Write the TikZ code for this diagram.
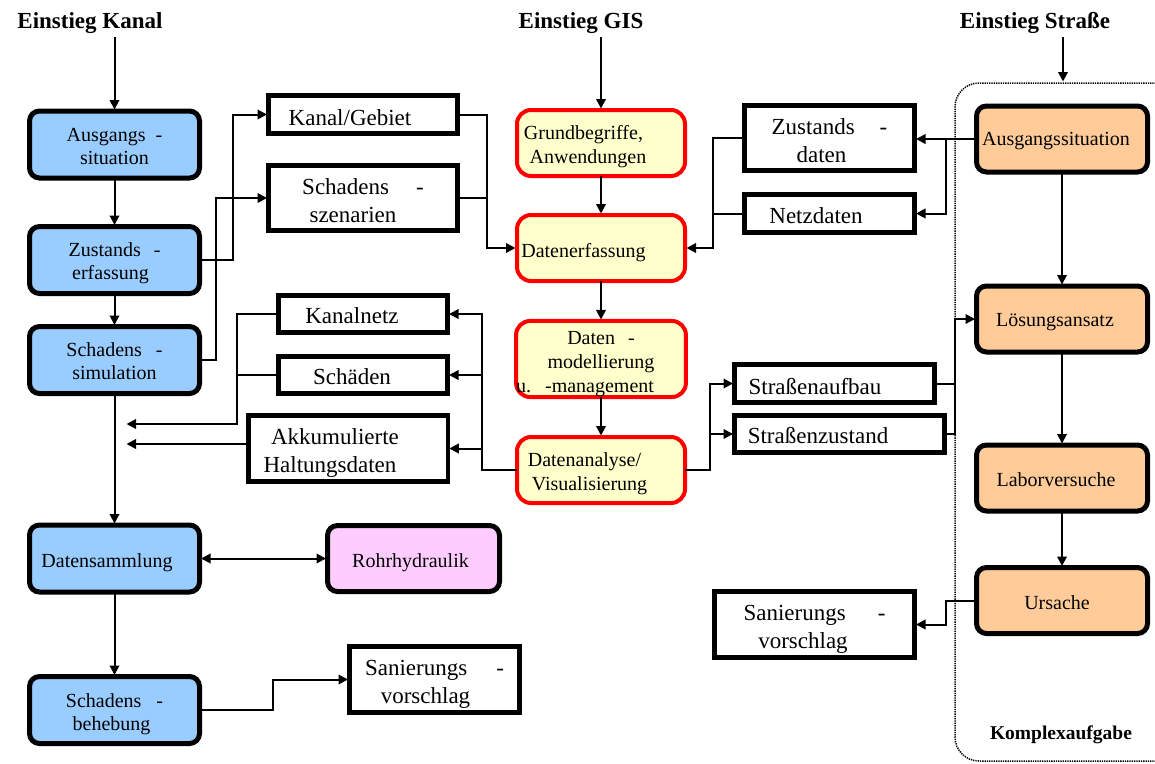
\documentclass[tikz,border=0pt]{standalone}
\usepackage{fontspec}
\setmainfont{Liberation Serif}
\usetikzlibrary{arrows.meta}

\definecolor{kanalblue}{HTML}{99CCFF}
\definecolor{gisyellow}{HTML}{FFFFCC}
\definecolor{gisred}{HTML}{FF0000}
\definecolor{strorange}{HTML}{FFCC99}
\definecolor{hydpink}{HTML}{FFCCFF}

% invisible strut that pushes a node's text block slightly down
\newcommand{\tstrut}[1]{\rule{0pt}{#1pt}}

\begin{document}
\begin{tikzpicture}[x=1pt,y=-1pt,
  every node/.style={inner sep=0pt, outer sep=0pt},
  headtext/.style={font=\fontsize{23}{27}\selectfont\bfseries, anchor=base},
  basebox/.style={draw=black, line width=5pt, rounded corners=10pt,
    font=\fontsize{20}{23}\selectfont, align=center},
  bluebox/.style={basebox, fill=kanalblue, minimum width=170pt, minimum height=67pt},
  orangebox/.style={basebox, fill=strorange, minimum width=171pt, minimum height=66pt},
  pinkbox/.style={basebox, fill=hydpink, minimum width=172pt, minimum height=66pt},
  gisbox/.style={draw=gisred, line width=4pt, fill=gisyellow, rounded corners=14pt,
    font=\fontsize{20}{24}\selectfont, align=center,
    minimum width=168pt, minimum height=66pt},
  whitebox/.style={draw=black, line width=4.5pt, fill=white,
    font=\fontsize{23}{28}\selectfont, align=center},
  conn/.style={line width=2pt},
  arr/.style={conn, -{Triangle[length=9.5pt,width=9.5pt]}, shorten >=1.5pt},
  dblarr/.style={conn, {Triangle[length=9.5pt,width=9.5pt]}-{Triangle[length=9.5pt,width=9.5pt]},
    shorten >=1.5pt, shorten <=1.5pt},
  framebox/.style={draw=black, line width=1.5pt, dash pattern=on 1.3pt off 1pt,
    rounded corners=24pt}
]
\useasboundingbox (0,0) rectangle (1155,763);

% dotted frame of the road column (runs off the right edge)
\begin{scope}
  \clip (0,0) rectangle (1155,763);
  \node[framebox, minimum width=225pt, minimum height=678pt] (frame) at (1067.5,422) {};
\end{scope}
\node[font=\fontsize{19.5}{22}\selectfont\bfseries] (komplex) at (1061,735) {Komplexaufgabe};

% headings and entry points
\node[headtext] (tK) at (90,28) {Einstieg Kanal};
\node[headtext] (tG) at (581,28) {Einstieg GIS};
\node[headtext] (tS) at (1035,28) {Einstieg Straße};
\coordinate (kIn) at (114.5,37);
\coordinate (gIn) at (601,37);
\coordinate (sIn) at (1063,37);

% sewer column
\node[bluebox] (kA) at (114.5,144.5) {\tstrut{17.7}Ausgangs\hspace{10pt}-\\situation};
\node[bluebox] (kZ) at (114.5,260) {\tstrut{19.7}Zustands\hspace{13pt}-\\erfassung\hspace*{8pt}};
\node[bluebox] (kS) at (114.5,360) {\tstrut{16.7}Schadens\hspace{14pt}-\\simulation};
\node[bluebox] (kD) at (114.5,558.5) {\tstrut{21.7}Datensammlung\hspace*{15pt}};
\node[bluebox] (kB) at (114.5,710) {\tstrut{21.7}Schadens\hspace{15pt}-\\behebung\hspace*{6pt}};
\node[pinkbox] (kR) at (413.5,558.5) {\tstrut{21.7}Rohrhydraulik\hspace*{6pt}};

\node[whitebox, minimum width=189pt, minimum height=38pt] (wKG) at (363,114.5) {\tstrut{21.7}Kanal/Gebiet\hspace*{26pt}};
\node[whitebox, minimum width=189pt, minimum height=65pt] (wSS) at (363,198) {\tstrut{20.7}Schadens\hspace{27pt}-\\szenarien\hspace*{20pt}};
\node[whitebox, minimum width=169pt, minimum height=37pt] (wKN) at (363,314) {\tstrut{19.7}Kanalnetz\hspace*{22pt}};
\node[whitebox, minimum width=169pt, minimum height=37pt] (wSD) at (363,375) {\tstrut{19.7}Schäden\hspace*{22pt}};
\node[whitebox, minimum width=199.5pt, minimum height=66pt] (wAH) at (348,448.5) {\tstrut{24.7}Akkumulierte\hspace*{26pt}\\Haltungsdaten\hspace*{36pt}};
\node[whitebox, minimum width=170pt, minimum height=66pt] (wSV1) at (434.5,679.5) {\tstrut{24.7}Sanierungs\hspace{29pt}-\\vorschlag\hspace*{18pt}};

% GIS column
\node[gisbox] (gG) at (601,143) {\tstrut{20.7}Grundbegriffe,\hspace*{35pt}\\Anwendungen\hspace*{26pt}};
\node[gisbox] (gE) at (601,248) {\tstrut{23.7}Datenerfassung\hspace*{35pt}};
\node[gisbox, minimum height=76pt] (gM) at (601,359) {\tstrut{23.7}Daten\hspace{13pt}-\\modellierung\hspace*{24pt}\\u.\hspace{14pt}-management\hspace*{32pt}};
\node[gisbox] (gA) at (601,470) {\tstrut{21.7}Datenanalyse/\hspace*{33pt}\\Visualisierung\hspace*{23pt}};

% road column
\node[orangebox] (sA) at (1062,139) {\tstrut{17.7}Ausgangssituation\hspace*{12pt}};
\node[orangebox] (sL) at (1062,319) {\tstrut{19.7}Lösungsansatz\hspace*{14pt}};
\node[orangebox] (sLV) at (1062,478) {\tstrut{17.7}Laborversuche\hspace*{12pt}};
\node[orangebox] (sU) at (1062,600.5) {\tstrut{17.7}Ursache\hspace*{10pt}};

\node[whitebox, minimum width=170pt, minimum height=65pt] (wZD) at (829.5,138) {\tstrut{20.7}Zustands\hspace{25pt}-\\daten\hspace*{16pt}};
\node[whitebox, minimum width=170pt, minimum height=38pt] (wND) at (829.5,213.5) {\tstrut{19.7}Netzdaten\hspace*{27pt}};
\node[whitebox, minimum width=200pt, minimum height=38pt] (wSA) at (834.5,383.5) {\tstrut{21.7}Straßenaufbau\hspace*{39pt}};
\node[whitebox, minimum width=210pt, minimum height=37pt] (wSZ) at (839.5,434) {\tstrut{19.7}Straßenzustand\hspace*{43pt}};
\node[whitebox, minimum width=200pt, minimum height=66pt] (wSV2) at (814.5,624.5) {\tstrut{24.7}Sanierungs\hspace{32pt}-\\vorschlag\hspace*{23pt}};

% bus lines and loose ends
\coordinate (outK1) at (125,424);
\coordinate (outK2) at (125,444);
\coordinate (busK) at (237,0);
\coordinate (busL) at (482,0);
\coordinate (busG) at (713,0);
\coordinate (busS) at (710,0);
\coordinate (busR1) at (946,0);
\coordinate (busR2) at (955,0);

% sewer column flow
\draw[arr] (kIn) -- (kA.north);
\draw[arr] (kA.south) -- (kZ.north);
\draw[arr] (kZ.south) -- (kS.north);
\draw[arr] (kS.south) -- (kD.north);
\draw[arr] (kD.south) -- (kB.north);
\draw[dblarr] (kD.east) -- (kR.west);
\draw[arr] (kZ.east) -- ++(33.5,0) |- (wKG.west);
\draw[arr] (kS.east) -- ++(16.5,0) |- (wSS.west);
\draw[arr] (kB.east) -- ++(73.5,0) |- (wSV1.west);

% into the GIS column
\draw[arr] (wKG.east) -- ++(29.5,0) |- (gE.west);
\draw[conn] (wSS.east) -- ++(29.5,0);
\draw[arr] (gIn) -- (gG.north);
\draw[arr] (gG.south) -- (gE.north);
\draw[arr] (gE.south) -- (gM.north);
\draw[arr] (gM.south) -- (gA.north);

% GIS results back to the sewer side
\draw[arr] (gA.west) -- (busL |- gA.west) |- (wKN.east);
\draw[arr] (busL |- wSD.east) -- (wSD.east);
\draw[arr] (busL |- wAH.east) -- (wAH.east);
\draw[arr] (wKN.west) -- (busK |- wKN.west) |- (outK1);
\draw[conn] (wSD.west) -- (busK |- wSD.west);
\draw[arr] (wAH.west |- outK2) -- (outK2);

% road data into the GIS column
\draw[arr] (wZD.west) -- (busG |- wZD.west) |- (gE.east);
\draw[conn] (wND.west) -- (busG |- wND.west);
\draw[arr] (gA.east) -- (busS |- gA.east) |- (wSA.west);
\draw[arr] (busS |- wSZ.west) -- (wSZ.west);

% road column flow
\draw[arr] (sIn) -- (sIn |- frame.north);
\draw[arr] (sA.west) -- (sA.west -| wZD.east);
\draw[arr] (busR1 |- sA.west) |- (wND.east);
\draw[arr] (sA.south) -- (sL.north);
\draw[arr] (sL.south) -- (sLV.north);
\draw[arr] (sLV.south) -- (sU.north);
\draw[conn] (wSA.east) -- (busR2 |- wSA.east);
\draw[arr] (wSZ.east) -- (busR2 |- wSZ.east) |- (sL.west);
\draw[arr] (sU.west) -- ++(-30.5,0) |- (wSV2.east);
\end{tikzpicture}
\end{document}
